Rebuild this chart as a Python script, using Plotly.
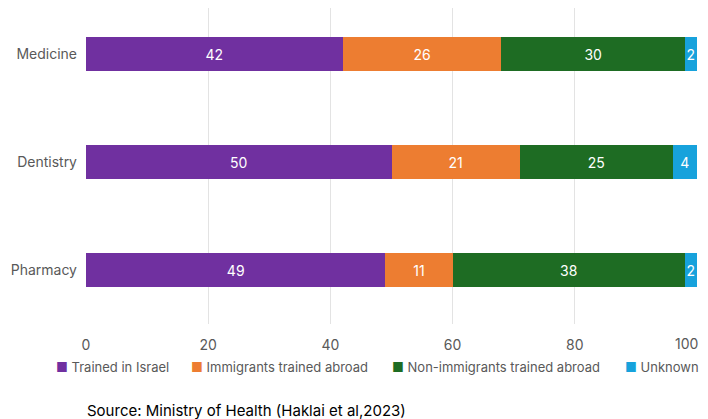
import plotly.graph_objects as go

categories = ["Medicine", "Dentistry", "Pharmacy"]
series_names = ["Trained in Israel", "Immigrants trained abroad",
                "Non-immigrants trained abroad", "Unknown"]
trained_israel = [42, 50, 49]
immigrants_abroad = [26, 21, 11]
non_immigrants_abroad = [30, 25, 38]
unknown = [2, 4, 2]
x_ticks = [0, 20, 40, 60, 80, 100]

colors = ["#7030A0", "#ED7D31", "#1E6C23", "#17A2DC"]
values = [trained_israel, immigrants_abroad, non_immigrants_abroad, unknown]

# page body has an 8px margin, so the figure is 8px smaller than the window
W, H = 700, 411
L, R, T, B = 78, 11, 0, 95
plot_w, plot_h = W - L - R, H - T - B

def px(fx, fy):
    # figure pixel -> paper coords
    return (fx - L) / plot_w, (plot_h + T - fy) / plot_h

fig = go.Figure()
for name, vals, col in zip(series_names, values, colors):
    fig.add_trace(go.Bar(
        y=categories, x=vals, name=name, orientation="h",
        marker=dict(color=col, line=dict(width=0)),
        text=[str(v) for v in vals], textposition="inside",
        insidetextanchor="middle", constraintext="none",
        textfont=dict(color="white", size=14, family="Inter"),
        showlegend=False,
    ))

# legend drawn as text entries
legend_x = [46, 181, 382, 615]
annotations = []
for name, col, lx in zip(series_names, colors, legend_x):
    ax, ay = px(lx, 359)
    annotations.append(dict(
        text=f"<span style='color:{col}'>■</span> {name}",
        xref="paper", yref="paper", x=ax, y=ay, xanchor="left",
        yanchor="middle", showarrow=False,
        font=dict(size=13, color="#595959", family="Inter")))

# last x tick label would be clipped at the right edge, so pin it there
tick_labels = [str(t) for t in x_ticks[:-1]] + [""]
_, ty = px(0, 335)
annotations.append(dict(text=str(x_ticks[-1]), xref="x", yref="paper",
                        x=x_ticks[-1], y=ty, xanchor="right", xshift=3,
                        yanchor="middle", showarrow=False,
                        font=dict(size=14, color="#595959", family="Inter")))

sx, sy = px(77, 402)
annotations.append(dict(text="Source: Ministry of Health (Haklai et al,2023)",
                        xref="paper", yref="paper", x=sx, y=sy,
                        xanchor="left", yanchor="middle", showarrow=False,
                        font=dict(size=15, color="#000000", family="Inter")))

fig.update_layout(
    barmode="stack",
    bargap=0.685,
    width=W, height=H,
    margin=dict(l=L, r=R, t=T, b=B, pad=0, autoexpand=False),
    plot_bgcolor="white", paper_bgcolor="white",
    font=dict(family="Inter", color="#595959", size=14),
    uniformtext=dict(minsize=12, mode="show"),
    showlegend=False,
    xaxis=dict(range=[0, 100], tickvals=x_ticks, ticktext=tick_labels,
               showgrid=True, gridcolor="#E3E3E3", zeroline=False,
               showline=False, ticks="", automargin=False,
               ticklabelstandoff=11, ticklabeloverflow="allow",
               tickfont=dict(size=14, color="#595959", family="Inter")),
    yaxis=dict(categoryorder="array", categoryarray=categories[::-1],
               range=[-0.5, 2.426], showgrid=False, ticks="",
               automargin=False, ticklabelstandoff=8,
               ticklabeloverflow="allow",
               tickfont=dict(size=14, color="#595959")),
    annotations=annotations,
)

fig.write_html("out.html")
